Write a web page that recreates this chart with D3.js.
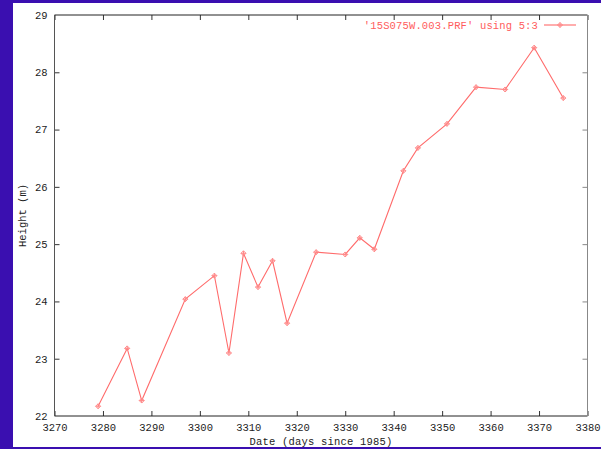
<!DOCTYPE html>
<html>
<head>
<meta charset="utf-8">
<script src="https://cdn.jsdelivr.net/npm/d3@7"></script>
<style>
  html, body { margin: 0; padding: 0; background: #3a0fb0; }
  svg { display: block; }
  text { font-family: "Liberation Mono", "DejaVu Sans Mono", monospace; font-size: 10.5px; }
</style>
</head>
<body>
<script>
// Survey station height over time
const days    = [3279, 3285, 3288, 3297, 3303, 3306, 3309, 3312, 3315, 3318, 3324,
                 3330, 3333, 3336, 3342, 3345, 3351, 3357, 3363, 3369, 3375];
const heights = [22.17, 23.18, 22.27, 24.04, 24.45, 23.10, 24.84, 24.25, 24.71, 23.62, 24.86,
                 24.82, 25.11, 24.91, 26.28, 26.68, 27.10, 27.74, 27.70, 28.43, 27.55];
const xTicks  = [3270, 3280, 3290, 3300, 3310, 3320, 3330, 3340, 3350, 3360, 3370, 3380];
const yTicks  = [22, 23, 24, 25, 26, 27, 28, 29];
const seriesLabel = "'15S075W.003.PRF' using 5:3";
const xTitle = "Date (days since 1985)";
const yTitle = "Height (m)";

const W = 601, H = 449;
const svg = d3.select("body").append("svg").attr("width", W).attr("height", H);

// purple frame with white canvas
svg.append("rect").attr("width", W).attr("height", H).attr("fill", "#3a0fb0");
svg.append("rect").attr("x", 13).attr("y", 3).attr("width", W - 13).attr("height", 444).attr("fill", "#fff");

const x = d3.scaleLinear().domain([3270, 3380]).range([54.5, 587.5]);
const y = d3.scaleLinear().domain([22, 29]).range([416, 15]);

const tickColor = "#333";

// bottom axis (ticks point inward)
const gx = svg.append("g").attr("transform", `translate(0,${y(22)})`)
  .call(d3.axisBottom(x).tickValues(xTicks).tickSize(-5).tickPadding(7.5).tickFormat(d3.format("d")));
// top axis mirror ticks
const gxt = svg.append("g").attr("transform", `translate(0,${y(29)})`)
  .call(d3.axisTop(x).tickValues(xTicks).tickSize(-5).tickFormat(""));
// left axis
const gy = svg.append("g").attr("transform", `translate(${x(3270)},0)`)
  .call(d3.axisLeft(y).tickValues(yTicks).tickSize(-5).tickPadding(7).tickFormat(d3.format("d")));
// right axis mirror ticks
const gyr = svg.append("g").attr("transform", `translate(${x(3380)},0)`)
  .call(d3.axisRight(y).tickValues(yTicks).tickSize(-5).tickFormat(""));

[gx, gxt, gy, gyr].forEach(g => {
  g.select(".domain").remove();
  g.selectAll(".tick line").attr("stroke", tickColor);
  g.selectAll("text").attr("fill", "#222").style("font-family", null).style("font-size", null)
    .attr("font-family", null).attr("font-size", null);
});
gyr.selectAll(".tick line").attr("stroke", "#888");
gyr.selectAll(".tick").filter(d => d === 22 || d === 29).remove();
gy.selectAll(".tick line").filter(d => d === 22 || d === 29).remove();

// plot border
const x0 = x(3270), x1 = x(3380), y0 = y(29), y1 = y(22);
svg.append("line").attr("x1", x0).attr("x2", x1).attr("y1", y0).attr("y2", y0).attr("stroke", "#222");
svg.append("line").attr("x1", x0).attr("x2", x1).attr("y1", y1).attr("y2", y1).attr("stroke", "#222");
svg.append("line").attr("x1", x0).attr("x2", x0).attr("y1", y0).attr("y2", y1).attr("stroke", "#555");
svg.append("line").attr("x1", x1).attr("x2", x1).attr("y1", y0).attr("y2", y1).attr("stroke", "#888");

// axis titles
svg.append("text").attr("x", (x0 + x1) / 2).attr("y", 445).attr("text-anchor", "middle")
  .attr("fill", "#222").attr("letter-spacing", "0.2px").text(xTitle);
svg.append("text").attr("transform", `translate(26,${(y0 + y1) / 2}) rotate(-90)`)
  .attr("text-anchor", "middle").attr("fill", "#222").text(yTitle);

// data line and markers
const pts = days.map((d, i) => [d, heights[i]]);
const lineColor = "#ff6b6b";
svg.append("path").datum(pts)
  .attr("fill", "none").attr("stroke", lineColor).attr("stroke-width", 1.1)
  .attr("d", d3.line().x(d => x(d[0])).y(d => y(d[1])));

const marker = (g, cx, cy) => {
  g.append("path")
    .attr("d", `M${cx - 2.5},${cy}L${cx},${cy - 2.5}L${cx + 2.5},${cy}L${cx},${cy + 2.5}Z M${cx - 2.5},${cy}H${cx + 2.5} M${cx},${cy - 2.5}V${cy + 2.5}`)
    .attr("fill", "none").attr("stroke", "#ff8a8a").attr("stroke-width", 1);
};
const mg = svg.append("g");
pts.forEach(d => marker(mg, x(d[0]), y(d[1])));

// legend
svg.append("text").attr("x", 538).attr("y", 28.5).attr("text-anchor", "end")
  .attr("fill", "#ff5c5c").attr("letter-spacing", "0.15px").text(seriesLabel);
svg.append("line").attr("x1", 544).attr("x2", 576).attr("y1", 25).attr("y2", 25)
  .attr("stroke", lineColor).attr("stroke-width", 1.1);
marker(svg, 560, 25);
</script>
</body>
</html>
